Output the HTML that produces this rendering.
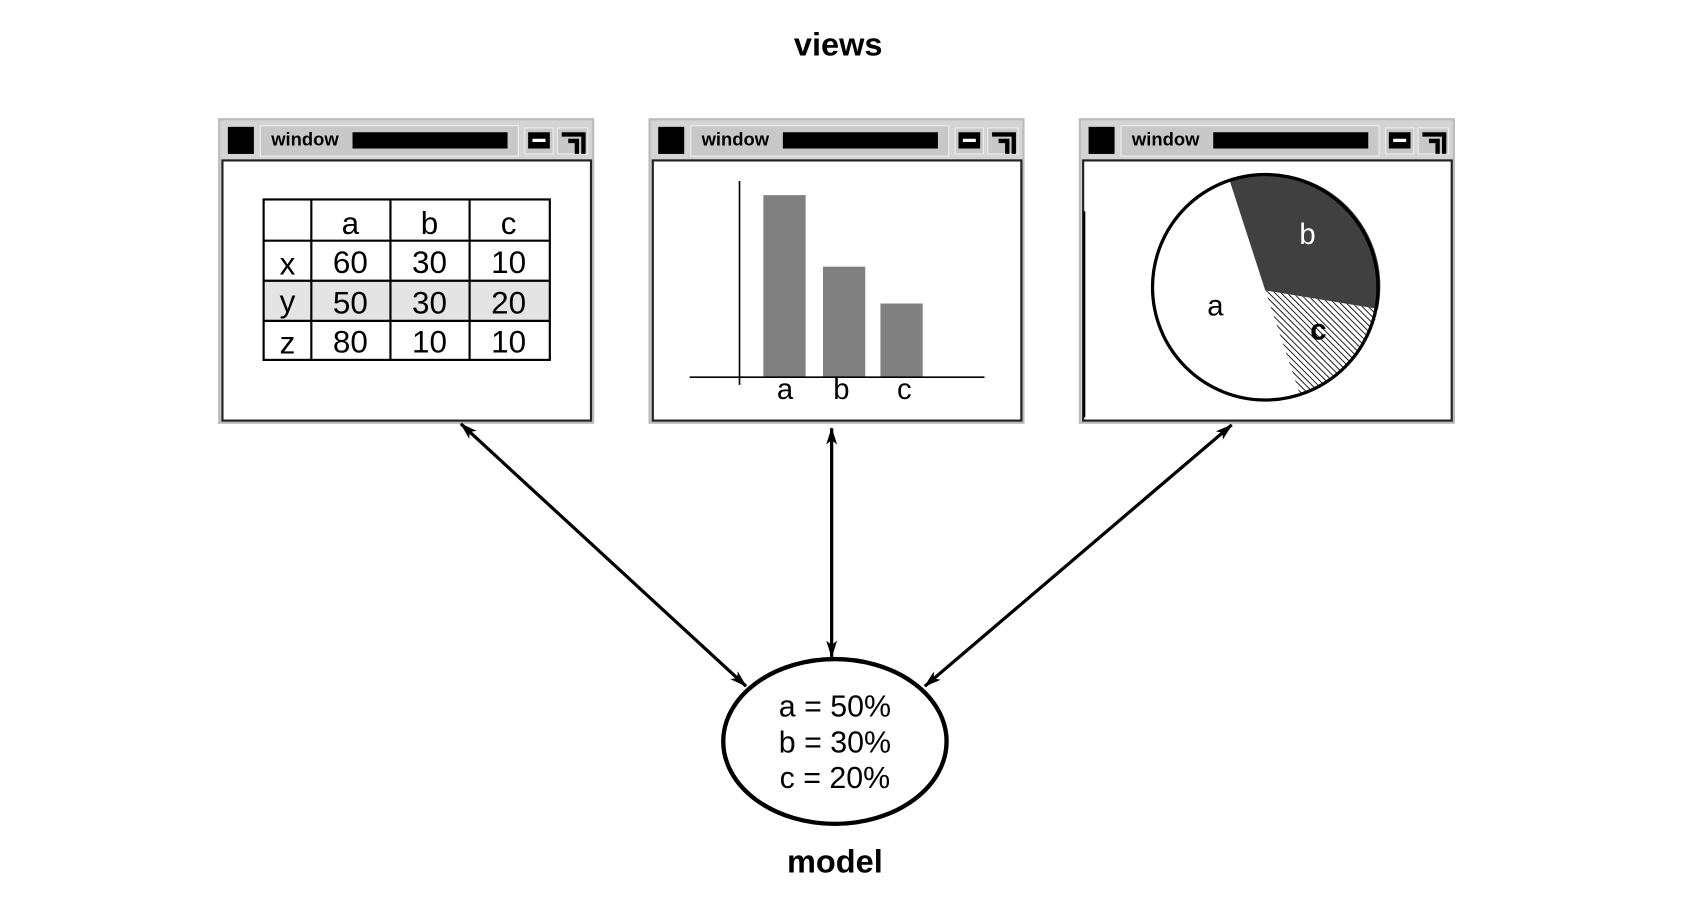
<!DOCTYPE html>
<html><head><style>html,body{margin:0;padding:0;background:#fff}svg{display:block}</style></head><body>
<svg width="1698" height="916" viewBox="0 0 1566 845" xmlns="http://www.w3.org/2000/svg" font-family="Liberation Sans, sans-serif">
<defs>
<pattern id="h" width="4" height="4" patternUnits="userSpaceOnUse" patternTransform="rotate(-45)"><rect width="4" height="4" fill="#fff"/><line x1="0" y1="0" x2="0" y2="4" stroke="#000" stroke-width="1.6"/></pattern>
<marker id="ah" markerWidth="16" markerHeight="12" refX="15" refY="6" orient="auto-start-reverse" markerUnits="userSpaceOnUse" viewBox="0 0 16 12"><path d="M0,1 L16,6 L0,11 L4,6 Z" fill="#000"/></marker>
<g id="win">
<rect x="0" y="0" width="345" height="280" fill="#d4d4d4" stroke="#bbb" stroke-width="2"/>
<rect x="8" y="7" width="24" height="25" fill="#000"/>
<rect x="38" y="6" width="238" height="28" fill="#c8c8c8" stroke="#eee"/>
<text x="48" y="24" font-size="17" font-weight="bold">window</text>
<rect x="123" y="12" width="143" height="15" fill="#000"/>
<rect x="282" y="8" width="26" height="24" fill="#c8c8c8" stroke="#eee"/>
<rect x="285" y="12" width="20" height="15" fill="#000"/><rect x="289" y="18" width="12" height="3" fill="#fff"/>
<rect x="312" y="8" width="28" height="24" fill="#c8c8c8" stroke="#eee"/>
<path d="M316,14 H336 V32 M322,20 H330 V32" stroke="#000" stroke-width="4" fill="none"/>
<rect x="3" y="38" width="340" height="240" fill="#fff" stroke="#222" stroke-width="2"/>
</g>
</defs>
<text x="773" y="51" font-size="30" font-weight="bold" text-anchor="middle">views</text>
<use href="#win" x="202" y="110"/>
<use href="#win" x="599" y="110"/>
<use href="#win" x="996" y="110"/>
<rect x="243" y="259" width="264" height="37" fill="#e4e4e4"/>
<g stroke="#000" stroke-width="2" fill="none">
<rect x="243" y="184" width="264" height="148"/>
<line x1="243" y1="222" x2="507" y2="222"/><line x1="243" y1="259" x2="507" y2="259"/><line x1="243" y1="296" x2="507" y2="296"/>
<line x1="287" y1="184" x2="287" y2="332"/><line x1="360" y1="184" x2="360" y2="332"/><line x1="433" y1="184" x2="433" y2="332"/>
</g>
<g font-size="29" text-anchor="middle">
<text x="323" y="216">a</text><text x="396" y="216">b</text><text x="469" y="216">c</text>
<text x="265" y="253">x</text><text x="323" y="252">60</text><text x="396" y="252">30</text><text x="469" y="252">10</text>
<text x="265" y="288">y</text><text x="323" y="289">50</text><text x="396" y="289">30</text><text x="469" y="289">20</text>
<text x="265" y="326">z</text><text x="323" y="325">80</text><text x="396" y="325">10</text><text x="469" y="325">10</text>
</g>
<rect x="704" y="180" width="39" height="168" fill="#808080"/>
<rect x="759" y="246" width="39" height="102" fill="#808080"/>
<rect x="812" y="280" width="39" height="68" fill="#808080"/>
<line x1="682" y1="167" x2="682" y2="355" stroke="#000" stroke-width="1.5"/>
<line x1="636" y1="348" x2="908" y2="348" stroke="#000" stroke-width="1.5"/>
<g font-size="27" text-anchor="middle"><text x="724" y="368">a</text><text x="776" y="368">b</text><text x="834" y="368">c</text></g>
<line x1="1000" y1="195" x2="1000" y2="385" stroke="#000" stroke-width="2"/>
<circle cx="1167" cy="265" r="104" fill="#fff"/>
<path d="M1167,268 L1134,166 A104,104 0 0 1 1271,285 Z" fill="#404040"/>
<path d="M1167,268 L1271,285 A104,104 0 0 1 1199,364 Z" fill="url(#h)"/>
<circle cx="1167" cy="265" r="104" fill="none" stroke="#000" stroke-width="3"/>
<text x="1121" y="291" font-size="27" text-anchor="middle">a</text>
<text x="1206" y="225" font-size="27" fill="#fff" text-anchor="middle">b</text>
<text x="1216" y="313" font-size="27" font-weight="bold" text-anchor="middle">c</text>
<g stroke="#000" stroke-width="3" marker-start="url(#ah)" marker-end="url(#ah)">
<line x1="425" y1="391" x2="688" y2="633"/>
<line x1="767" y1="395" x2="767" y2="606"/>
<line x1="1136" y1="392" x2="853" y2="633"/>
</g>
<ellipse cx="770" cy="684" rx="103" ry="76" fill="#fff" stroke="#000" stroke-width="4"/>
<g font-size="28" text-anchor="middle"><text x="770" y="661">a = 50%</text><text x="770" y="694">b = 30%</text><text x="770" y="727">c = 20%</text></g>
<text x="770" y="805" font-size="30" font-weight="bold" text-anchor="middle">model</text>
</svg>
</body></html>
